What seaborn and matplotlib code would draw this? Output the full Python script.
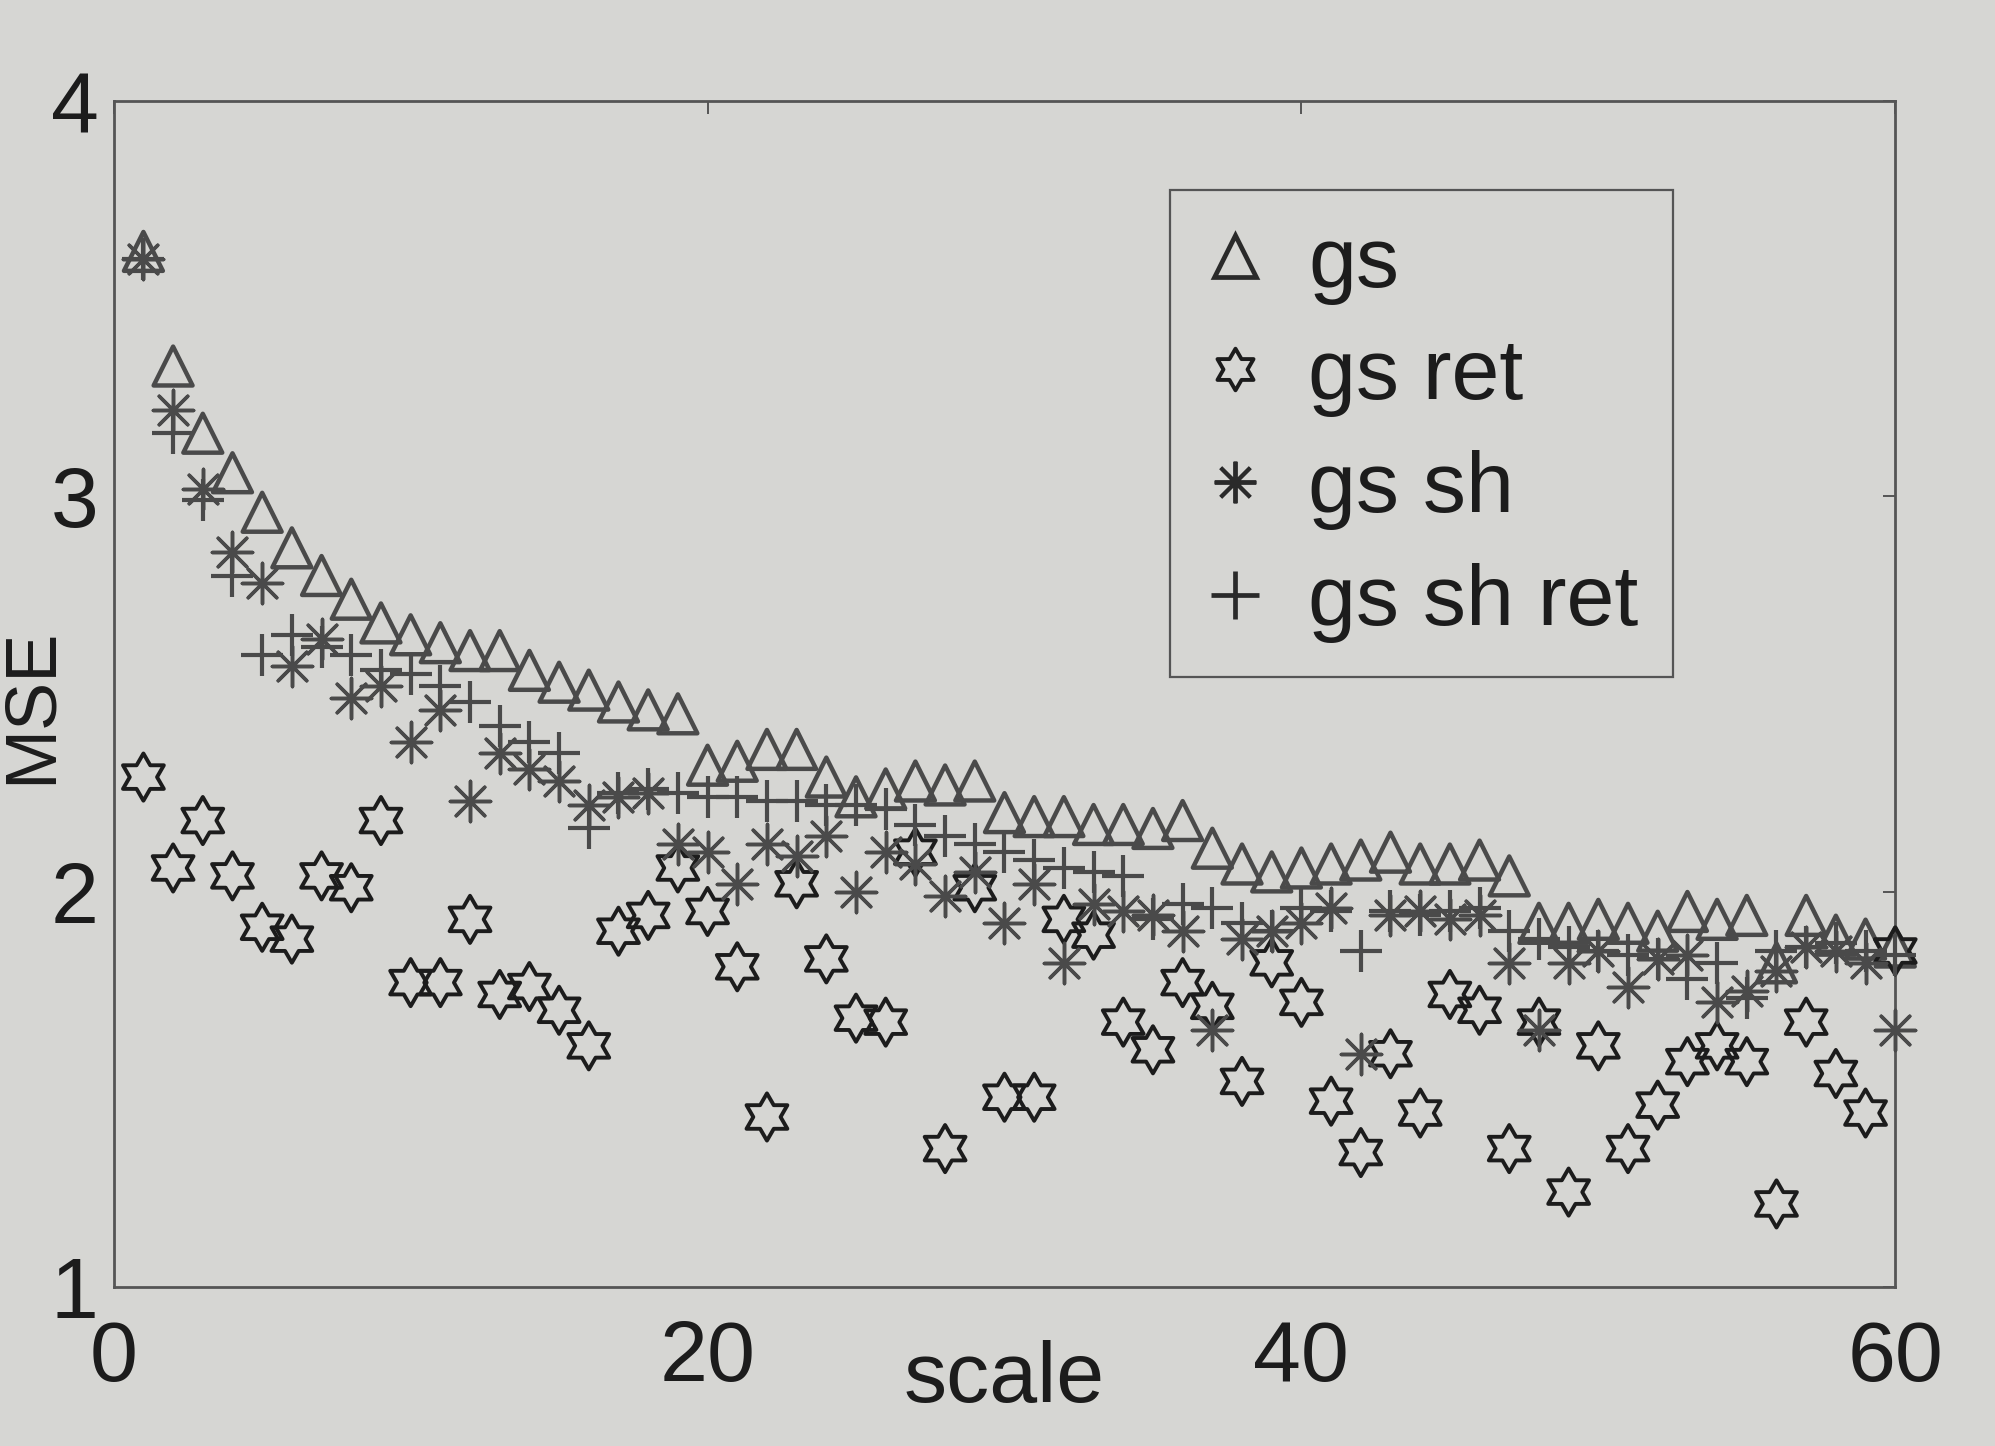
import numpy as np
import pandas as pd
import matplotlib
matplotlib.use("Agg")
import matplotlib.pyplot as plt
from matplotlib.path import Path
from matplotlib.lines import Line2D
import seaborn as sns

# scale index shared by all four curves
scale = list(range(1, 61))

gs = [3.62, 3.33, 3.16, 3.06, 2.96, 2.87, 2.80, 2.74, 2.68, 2.65,
      2.63, 2.61, 2.61, 2.56, 2.53, 2.51, 2.48, 2.46, 2.45, 2.32,
      2.33, 2.36, 2.36, 2.29, 2.24, 2.26, 2.28, 2.27, 2.28, 2.20,
      2.19, 2.19, 2.17, 2.17, 2.16, 2.18, 2.11, 2.07, 2.05, 2.06,
      2.07, 2.08, 2.10, 2.07, 2.07, 2.08, 2.04, 1.92, 1.92, 1.93,
      1.92, 1.90, 1.95, 1.93, 1.94, 1.82, 1.94, 1.89, 1.88, 1.86]

gs_ret = [2.29, 2.06, 2.18, 2.04, 1.91, 1.88, 2.04, 2.01, 2.18, 1.77,
          1.77, 1.93, 1.74, 1.76, 1.70, 1.61, 1.90, 1.94, 2.06, 1.95,
          1.81, 1.43, 2.02, 1.83, 1.68, 1.67, 2.10, 1.35, 2.01, 1.48,
          1.48, 1.93, 1.89, 1.67, 1.60, 1.77, 1.71, 1.52, 1.82, 1.72,
          1.47, 1.34, 1.59, 1.44, 1.74, 1.70, 1.35, 1.67, 1.24, 1.61,
          1.35, 1.46, 1.57, 1.61, 1.57, 1.21, 1.67, 1.54, 1.44, 1.85]

gs_sh = [3.60, 3.22, 3.02, 2.86, 2.78, 2.57, 2.64, 2.49, 2.52, 2.38,
         2.46, 2.23, 2.35, 2.31, 2.28, 2.22, 2.24, 2.25, 2.12, 2.10,
         2.02, 2.12, 2.09, 2.14, 2.00, 2.10, 2.07, 1.99, 2.05, 1.92,
         2.02, 1.82, 1.97, 1.95, 1.94, 1.90, 1.65, 1.88, 1.90, 1.92,
         1.96, 1.59, 1.94, 1.95, 1.93, 1.94, 1.82, 1.65, 1.82, 1.85,
         1.76, 1.83, 1.84, 1.72, 1.75, 1.80, 1.86, 1.85, 1.82, 1.65]

gs_sh_ret = [3.60, 3.16, 2.99, 2.80, 2.60, 2.65, 2.62, 2.60, 2.56, 2.55,
             2.52, 2.48, 2.42, 2.38, 2.35, 2.16, 2.25, 2.26, 2.25, 2.24,
             2.24, 2.23, 2.23, 2.22, 2.22, 2.21, 2.17, 2.14, 2.12, 2.10,
             2.08, 2.06, 2.05, 2.04, 1.93, 1.97, 1.96, 1.92, 1.90, 1.96,
             1.95, 1.85, 1.95, 1.94, 1.95, 1.96, 1.90, 1.88, 1.86, 1.85,
             1.84, 1.83, 1.78, 1.82, 1.73, 1.85, 1.86, 1.87, 1.85, 1.84]

series_names = ["gs", "gs ret", "gs sh", "gs sh ret"]
x_ticks = [0, 20, 40, 60]
y_ticks = [1, 2, 3, 4]

df = pd.DataFrame({
    "scale": scale * 4,
    "MSE": gs + gs_ret + gs_sh + gs_sh_ret,
    "series": np.repeat(series_names, len(scale)),
})

sns.set_theme(style="white")
plt.rcParams["font.family"] = ["Liberation Sans", "DejaVu Sans"]

paper = "#d6d6d3"
ink = "#1c1c1c"
band = "#4a4a4a"

# six-pointed outline star
ang_out = np.pi / 2 + np.arange(6) * np.pi / 3
ang_in = ang_out + np.pi / 6
r_in = 1 / np.sqrt(3)
verts = []
for a, b in zip(ang_out, ang_in):
    verts.append((np.cos(a), np.sin(a)))
    verts.append((r_in * np.cos(b), r_in * np.sin(b)))
verts.append(verts[0])
hexagram = Path(verts, closed=True)
asterisk = (8, 2, 0)

styles = {
    "gs":        dict(marker="^", s=28 ** 2, facecolor="none", edgecolor=band, linewidth=3.2),
    "gs ret":    dict(marker=hexagram, s=34 ** 2, facecolor="none", edgecolor=ink, linewidth=2.8),
    "gs sh":     dict(marker=asterisk, s=29 ** 2, color=band, linewidth=2.5),
    "gs sh ret": dict(marker="+", s=30 ** 2, color=band, linewidth=3.0),
}

fig = plt.figure(figsize=(19.95, 14.46), dpi=100, facecolor=paper)
ax = fig.add_axes([0.057, 0.110, 0.893, 0.820], facecolor=paper)

for name in series_names:
    sub = df[df["series"] == name]
    sns.scatterplot(data=sub, x="scale", y="MSE", ax=ax, legend=False,
                    clip_on=False, zorder=3, **styles[name])

ax.set_xlim(0, 60)
ax.set_ylim(1, 4)
ax.set_xticks(x_ticks)
ax.set_yticks(y_ticks)
ax.set_xticklabels([str(t) for t in x_ticks])
ax.set_yticklabels([str(t) for t in y_ticks])

fs = 62
ax.tick_params(axis="both", which="both", direction="in", length=9, width=1.4,
               color="#555555", labelsize=fs, labelcolor=ink,
               top=True, right=True)
ax.tick_params(axis="y", pad=11)
ax.tick_params(axis="x", pad=23)
for sp in ax.spines.values():
    sp.set_color("#555555")
    sp.set_linewidth(2.0)

ax.set_xlabel("scale", fontsize=fs, color=ink)
ax.set_ylabel("MSE", fontsize=52, color=ink)
ax.xaxis.set_label_coords(0.5, -0.045)
ax.yaxis.set_label_coords(-0.027, 0.49)

handles = [
    Line2D([], [], linestyle="none", marker="^", markersize=30,
           markerfacecolor="none", markeredgecolor="#2a2a2a", markeredgewidth=3.4),
    Line2D([], [], linestyle="none", marker=hexagram, markersize=30,
           markerfacecolor="none", markeredgecolor=ink, markeredgewidth=2.8),
    Line2D([], [], linestyle="none", marker=asterisk, markersize=30,
           color="#2a2a2a", markeredgewidth=2.8),
    Line2D([], [], linestyle="none", marker="+", markersize=34,
           color="#2a2a2a", markeredgewidth=3.4),
]
leg = ax.legend(handles, series_names, loc="upper left",
                bbox_to_anchor=(0.593, 0.925), borderaxespad=0,
                fontsize=fs, frameon=True, fancybox=False,
                facecolor=paper, edgecolor="#555555", framealpha=1,
                handlelength=0.7, handletextpad=0.5, labelspacing=0.38,
                borderpad=0.4)
leg.get_frame().set_linewidth(1.6)
for t in leg.get_texts():
    t.set_color(ink)

fig.savefig("out.png", dpi=100, facecolor=paper)
